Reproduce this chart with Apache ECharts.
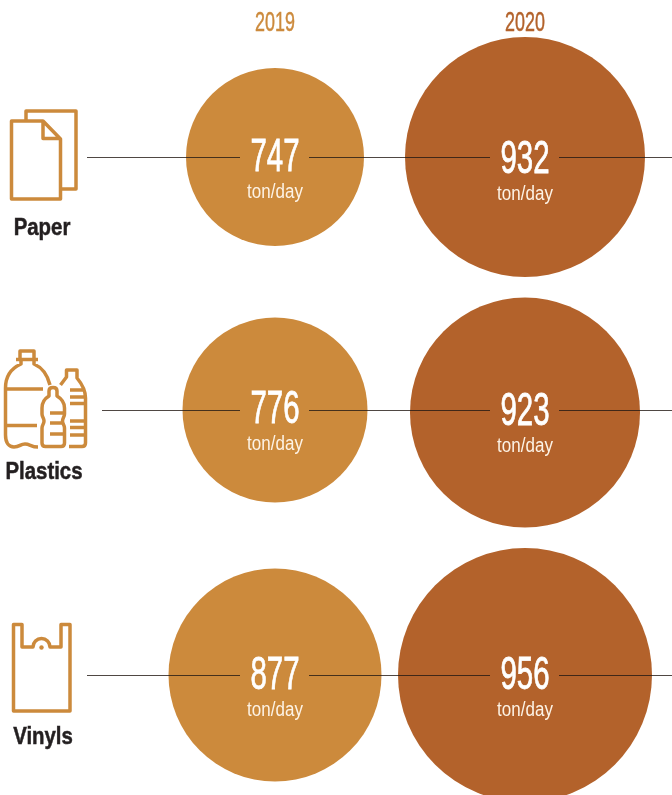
<!DOCTYPE html>
<html><head><meta charset="utf-8">
<style>html,body{margin:0;padding:0;background:#fff}#c{width:672px;height:795px}</style>
<script src="https://cdn.jsdelivr.net/npm/echarts@6/dist/echarts.min.js"></script>
</head><body><div id="c"></div>
<script>
const years = ['2019', '2020'];
const materials = ['Paper', 'Plastics', 'Vinyls'];
const values2019 = [747, 776, 877];
const values2020 = [932, 923, 956];
const unit = 'ton/day';
const diameters2019 = [178, 185, 213];
const diameters2020 = [240, 230, 254];

const ORANGE = '#cc8a3c', BROWN = '#b3622b';
const FONT = '"Liberation Sans",sans-serif';
const rowCenter = [157, 411, 675];
const rowH = 200;
const numDy = [[0, 2], [-2, 0], [0, 0]];
const circleDy = [[0, 0], [-1, 1.5], [0, 0]];

const grids = [], xAxes = [], yAxes = [], series = [];
materials.forEach((m, r) => {
  grids.push({left: 150, width: 500, top: rowCenter[r] - rowH / 2, height: rowH});
  xAxes.push({type: 'category', gridIndex: r, data: years, show: false});
  yAxes.push({type: 'category', gridIndex: r, data: [m], show: false});
  const vals = [values2019[r], values2020[r]];
  series.push({
    type: 'scatter', xAxisIndex: r, yAxisIndex: r, clip: false, z: 2, silent: true,
    data: vals.map((v, i) => ({
      value: [years[i], m, v],
      symbolSize: (i ? diameters2020 : diameters2019)[r],
      symbolOffset: [0, circleDy[r][i]],
      itemStyle: {color: i ? BROWN : ORANGE, opacity: 1}
    }))
  });
  series.push({
    type: 'custom', xAxisIndex: r, yAxisIndex: r, clip: false, z: 10, silent: true,
    encode: {x: 0, y: 1},
    data: vals.map((v, i) => [years[i], m, v]),
    renderItem: (params, api) => {
      const i = params.dataIndex;
      const p = api.coord([years[i], m]);
      const dy = numDy[r][i];
      const kids = [
        {type: 'text', x: p[0], y: p[1] + dy + 1.5, scaleX: 0.64, style: {text: String(vals[i]), fill: '#fff', stroke: '#fff', lineWidth: 0.8, font: '46px ' + FONT, align: 'center', verticalAlign: 'middle'}},
        {type: 'text', x: p[0], y: p[1] + dy + 35, scaleX: 0.85, style: {text: unit, fill: '#fdf3e6', font: '20px ' + FONT, align: 'center', verticalAlign: 'middle'}}
      ];
      if (r === 0) kids.push({type: 'text', x: p[0], y: 23.5, scaleX: 0.64, style: {text: years[i], fill: i ? BROWN : ORANGE, stroke: i ? BROWN : ORANGE, lineWidth: 0.5, font: '28px ' + FONT, align: 'center', verticalAlign: 'middle'}});
      return {type: 'group', children: kids};
    }
  });
});

const lineRows = [[87, 157.5], [102, 410.5], [87, 675.5]];
const graphic = [];
lineRows.forEach(([x0, y]) => {
  [[x0, 240], [309, 490], [559, 672]].forEach(([a, b]) => graphic.push({
    type: 'line', z: 5, silent: true,
    shape: {x1: a, y1: y, x2: b, y2: y},
    style: {stroke: 'rgba(35,25,20,0.8)', lineWidth: 1}
  }));
});
const iconStyle = {fill: 'none', stroke: ORANGE, lineWidth: 3.5, lineJoin: 'round'};
const icons = [
  'M26 121V111H76V189H62M11.5 121H43L60.5 139V199H11.5ZM43 121V138.500H60.500',
  'M20 359V351H34V359M16 359.500H38M21 360V364C12 368 5.500 376 5.500 388V435C5.500 443 9 447 14 447C20 447 20 444 25 444C30 444 31 447 38 447M34 360V364C41 367 47 373 50 385M6 389H43M6 425.500H37' +
  'M49 396V391C49 388 51 387.500 53 387.500C55 387.500 57 388 57 391V396C62 399 64.500 403 64.500 408V414C64.500 417 62.500 418 62.500 421C62.500 424 64.500 425 64.500 428V443C64.500 445.500 63 446.500 61 446.500H45.500C43.500 446.500 42 445.500 42 443V428C42 425 44 424 44 421C44 418 42 417 42 414V408C42 403 44 399 49 396ZM50 413H63M50 423H63M50 434H63' +
  'M60.500 385L66.500 377V370H77V378C82 384 85.500 390 85.500 398V443C85.500 445.500 84 446.500 82 446.500H69M70 390H84M70 397H84M70 403.500H84M70 421H84M70 427.500H84M70 435H84',
  'M13.500 624.500H22V647H33A8.500 8.500 0 0 1 50 647H61V624.500H70V711H13.500Z'
];
series.push({
  type: 'custom', coordinateSystem: 'none', silent: true, z: 5, clip: false,
  data: icons.map((d, i) => [i]),
  renderItem: (params) => ({type: 'path', shape: {pathData: icons[params.dataIndex]}, style: iconStyle})
});
graphic.push({type: 'circle', z: 5, silent: true, shape: {cx: 41.5, cy: 647.5, r: 2.2}, style: {fill: ORANGE}});
const nameAt = [[42, 228], [44, 472], [43, 737]];
materials.forEach((m, r) => graphic.push({
  type: 'text', z: 5, silent: true, x: nameAt[r][0], y: nameAt[r][1], scaleX: 0.85,
  style: {text: m, fill: '#231f20', stroke: '#231f20', lineWidth: 0.5, font: 'bold 24px ' + FONT, align: 'center', verticalAlign: 'middle'}
}));

const chart = echarts.init(document.getElementById('c'), null, {renderer: 'canvas', width: 672, height: 795});
chart.setOption({animation: false, backgroundColor: '#fff', grid: grids, xAxis: xAxes, yAxis: yAxes, series, graphic});
</script></body></html>
